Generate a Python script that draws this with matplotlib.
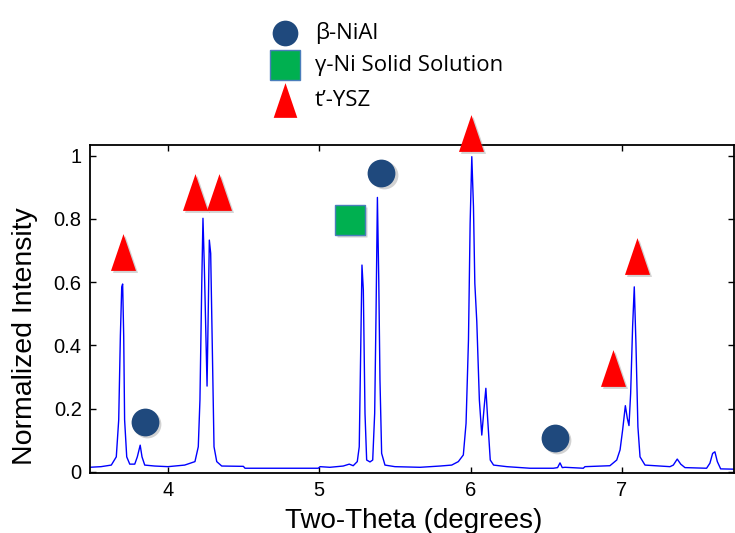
import numpy as np
import matplotlib
matplotlib.use('Agg')
import matplotlib.pyplot as plt
from matplotlib.lines import Line2D
import matplotlib.transforms as mtransforms

# diffraction pattern
two_theta = [3.48, 3.557, 3.625, 3.658, 3.674, 3.685, 3.694, 3.70, 3.707, 3.713, 3.727,
             3.747, 3.78, 3.797, 3.816, 3.828, 3.846, 3.912, 4.0, 4.11, 4.178, 4.2,
             4.211, 4.223, 4.231, 4.24, 4.258, 4.267, 4.273, 4.282, 4.293, 4.304, 4.322,
             4.355, 4.498, 4.509, 4.905, 4.993, 5.005, 5.07, 5.158, 5.198, 5.224, 5.251,
             5.264, 5.274, 5.282, 5.291, 5.302, 5.313, 5.335, 5.353, 5.366, 5.375, 5.384,
             5.393, 5.401, 5.412, 5.434, 5.5, 5.666, 5.798, 5.875, 5.919, 5.952, 5.97,
             5.986, 5.997, 6.008, 6.019, 6.028, 6.041, 6.058, 6.074, 6.09, 6.101, 6.112,
             6.13, 6.152, 6.24, 6.393, 6.547, 6.575, 6.591, 6.606, 6.624, 6.745, 6.756,
             6.921, 6.966, 6.988, 7.005, 7.023, 7.036, 7.047, 7.058, 7.071, 7.082, 7.093,
             7.106, 7.12, 7.153, 7.318, 7.34, 7.366, 7.389, 7.417, 7.56, 7.582, 7.6,
             7.615, 7.631, 7.653, 7.748]
intensity = [0.014, 0.016, 0.021, 0.047, 0.164, 0.43, 0.585, 0.594, 0.43, 0.164, 0.047,
             0.024, 0.024, 0.047, 0.084, 0.047, 0.021, 0.018, 0.016, 0.021, 0.032, 0.079,
             0.227, 0.596, 0.802, 0.649, 0.271, 0.543, 0.733, 0.691, 0.385, 0.079, 0.032,
             0.018, 0.017, 0.011, 0.011, 0.011, 0.016, 0.014, 0.018, 0.024, 0.019, 0.032,
             0.079, 0.396, 0.654, 0.575, 0.185, 0.037, 0.031, 0.037, 0.185, 0.501, 0.868,
             0.607, 0.29, 0.058, 0.021, 0.016, 0.014, 0.018, 0.021, 0.032, 0.053, 0.153,
             0.417, 0.786, 0.997, 0.839, 0.596, 0.475, 0.227, 0.116, 0.206, 0.264, 0.174,
             0.037, 0.021, 0.016, 0.011, 0.011, 0.013, 0.028, 0.013, 0.014, 0.011, 0.016,
             0.019, 0.037, 0.069, 0.132, 0.209, 0.169, 0.146, 0.248, 0.459, 0.585, 0.406,
             0.142, 0.047, 0.021, 0.016, 0.021, 0.04, 0.024, 0.013, 0.011, 0.027, 0.058,
             0.063, 0.032, 0.009, 0.008]

# phase markers (two-theta, height)
nial_x = [3.848, 5.411, 6.558]
nial_y = [0.157, 0.945, 0.107]
gni_x = [5.203]
gni_y = [0.797]
ysz_x = [3.703, 4.178, 4.337, 6.003, 6.941, 7.10]
ysz_y = [0.695, 0.885, 0.885, 1.071, 0.328, 0.683]

phase_names = ['\u03b2-NiAl', '\u03b3-Ni Solid Solution', 't\u2019-YSZ']

blue_dot = '#1F497D'
green_sq = '#00B050'
red_tri = '#FF0000'
tri = [(-0.34, -0.5), (0.34, -0.5), (0.0, 0.5)]

fig = plt.figure(figsize=(7.35, 5.33), dpi=100)
ax = fig.add_axes([0.1224, 0.1126, 0.8762, 0.6154])

ax.plot(two_theta, intensity, color='#0000FF', lw=1.0)

ax.set_xlim(3.484, 7.741)
ax.set_ylim(-0.004, 1.034)
ax.set_xticks([4, 5, 6, 7])
ax.set_yticks([0, 0.2, 0.4, 0.6, 0.8, 1])
ax.set_yticklabels(['0', '0.2', '0.4', '0.6', '0.8', '1'])
ax.tick_params(direction='in', top=True, right=True, length=4, width=1,
               labelsize=14.5, pad=6)
for lab in ax.get_xticklabels() + ax.get_yticklabels():
    lab.set_family('Liberation Sans')
for s in ax.spines.values():
    s.set_linewidth(1.3)

ax.set_xlabel('Two-Theta (degrees)', fontsize=20, family='Liberation Sans')
ax.set_ylabel('Normalized Intensity', fontsize=20.5, family='Liberation Sans')
ax.xaxis.set_label_coords(0.502, -0.108)
ax.yaxis.set_label_coords(-0.080, 0.418)

# soft drop shadow under the symbols
shadow = mtransforms.offset_copy(ax.transData, fig=fig, x=1.5, y=-1.5, units='points')

def put(xs, ys, marker, ms, color, edge=None):
    ax.plot(xs, ys, ls='none', marker=marker, ms=ms, color='0.5', alpha=0.35,
            mec='none', transform=shadow, clip_on=False, zorder=4)
    ax.plot(xs, ys, ls='none', marker=marker, ms=ms, color=color,
            mec=edge if edge else 'none', mew=1, clip_on=False, zorder=5)

put(nial_x, nial_y, 'o', 20, blue_dot)
put(gni_x, gni_y, 's', 21, green_sq, edge='#4A7EBB')
put(ysz_x, ysz_y, tri, 26.5, red_tri)

# legend drawn by hand at the top
leg_x = 0.388
leg_y = [0.938, 0.878, 0.812]
leg_m = ['o', 's', tri]
leg_ms = [18.5, 21, 25]
leg_c = [blue_dot, green_sq, red_tri]
leg_e = ['none', '#4A7EBB', 'none']
for i in range(3):
    fig.add_artist(Line2D([leg_x], [leg_y[i]], ls='none', marker=leg_m[i],
                          ms=leg_ms[i], color=leg_c[i], mec=leg_e[i], mew=1,
                          transform=fig.transFigure))
    fig.text(0.4286, leg_y[i], phase_names[i], fontsize=16, family='Open Sans',
             va='center', ha='left')

fig.savefig('out.png', dpi=100)
